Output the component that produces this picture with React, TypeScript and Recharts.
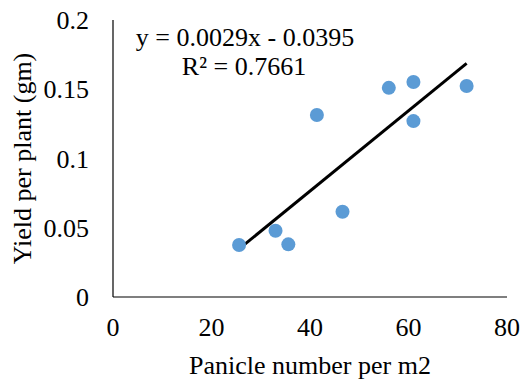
import React from "react";
import {
  ScatterChart,
  Scatter,
  XAxis,
  YAxis,
  ReferenceLine,
} from "recharts";

// panicle number per m2 vs yield per plant (gm)
const panicles = [25.6, 33.0, 35.6, 41.4, 46.6, 56.0, 61.0, 61.0, 71.8];
const yields = [0.0375, 0.0478, 0.038, 0.1314, 0.0616, 0.151, 0.1552, 0.127, 0.1523];

// trendline end points
const trendX = [25.6, 71.8];
const trendY = [0.0347, 0.1687];

const xTicks = [0, 20, 40, 60, 80];
const yTicks = [0, 0.05, 0.1, 0.15, 0.2];

const equationText = "y = 0.0029x - 0.0395";
const r2Text = "R² = 0.7661";

const FONT = "'Liberation Serif', 'Times New Roman', serif";
const FS = 26;

const points = panicles.map((x, i) => ({ x, y: yields[i] }));

function YTitle(props: any) {
  const vb = props.viewBox || {};
  const cy = (vb.y ?? 20) + (vb.height ?? 277) / 2;
  const cx = 22;
  return (
    <text
      x={cx}
      y={cy}
      transform={`rotate(-90, ${cx}, ${cy})`}
      textAnchor="middle"
      dominantBaseline="central"
      fontFamily={FONT}
      fontSize={FS}
      fill="#000"
    >
      Yield per plant (gm)
    </text>
  );
}

export default function App() {
  const tick = { fontFamily: FONT, fontSize: FS, fill: "#000" };
  return (
    <div style={{ position: "fixed", left: 0, top: 0, width: 523, height: 387, background: "#fff" }}>
      <ScatterChart width={523} height={387} margin={{ top: 20, right: 16, bottom: 0, left: 0 }}>
        <XAxis
          type="number"
          dataKey="x"
          domain={[0, 80]}
          ticks={xTicks}
          height={90}
          tickLine={false}
          tickSize={0}
          tickMargin={21}
          axisLine={{ stroke: "#000", strokeWidth: 1.2 }}
          tick={tick}
          label={{
            value: "Panicle number per m2",
            position: "insideBottom",
            offset: 13,
            style: { fontFamily: FONT, fontSize: FS, fill: "#000" },
          }}
        />
        <YAxis
          type="number"
          dataKey="y"
          domain={[0, 0.2]}
          ticks={yTicks}
          width={113}
          tickLine={false}
          tickSize={0}
          tickMargin={24}
          axisLine={{ stroke: "#000", strokeWidth: 1.2 }}
          tick={tick}
          tickFormatter={(v) => String(v)}
          label={{ content: YTitle }}
        />
        <ReferenceLine
          segment={[
            { x: trendX[0], y: trendY[0] },
            { x: trendX[1], y: trendY[1] },
          ]}
          stroke="#000"
          strokeWidth={3}
        />
        <Scatter
          data={points}
          fill="#5B9BD5"
          isAnimationActive={false}
          shape={(p: any) => <circle cx={p.cx} cy={p.cy} r={7} fill="#5B9BD5" />}
        />
      </ScatterChart>
      <svg
        width={523}
        height={387}
        style={{ position: "absolute", left: 0, top: 0, pointerEvents: "none" }}
      >
        <text x={245} y={45.5} textAnchor="middle" fontFamily={FONT} fontSize={FS} fill="#000">
          {equationText}
        </text>
        <text x={244} y={75} textAnchor="middle" fontFamily={FONT} fontSize={FS} fill="#000">
          {r2Text}
        </text>
      </svg>
    </div>
  );
}
